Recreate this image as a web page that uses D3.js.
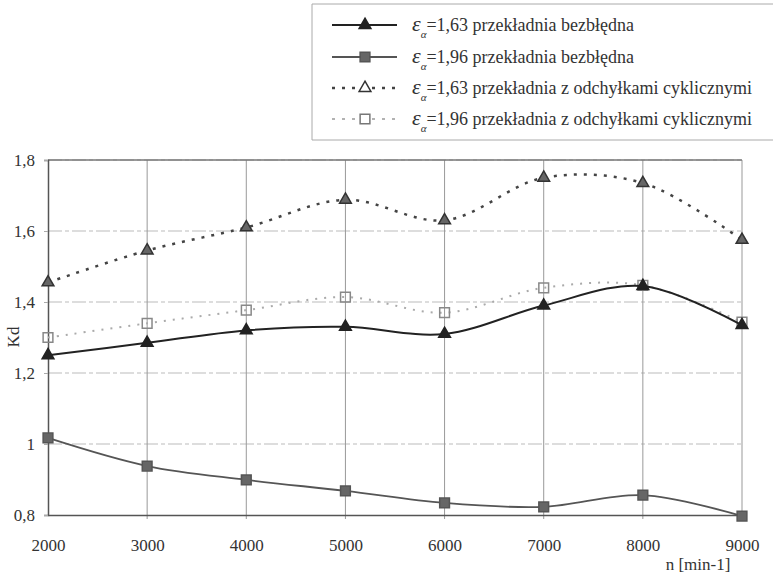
<!DOCTYPE html>
<html lang="pl">
  <head>
    <meta charset="UTF-8" />
    <title>Kd</title>
    <script src="https://cdn.jsdelivr.net/npm/d3@7"></script>
    <style>
      body { margin: 0; background: #fff; }
      svg text { font-family: "Liberation Serif", "DejaVu Serif", serif; fill: #333; }
    </style>
  </head>
  <body>
    <svg width="773" height="575"></svg>
  </body>

  <script>
    // dane
    var obroty = [2000, 3000, 4000, 5000, 6000, 7000, 8000, 9000];
    var kd163 = [1.25, 1.285, 1.32, 1.33, 1.31, 1.39, 1.445, 1.335];
    var kd196 = [1.017, 0.938, 0.899, 0.868, 0.834, 0.823, 0.856, 0.797];
    var kd163odch = [1.455, 1.545, 1.61, 1.688, 1.63, 1.75, 1.735, 1.575];
    var kd196odch = [1.30, 1.34, 1.377, 1.414, 1.37, 1.44, 1.447, 1.343];
    var yTicks = [0.8, 1, 1.2, 1.4, 1.6, 1.8];
    var legendLabels = [
      ['1,63', 'przekładnia bezbłędna'],
      ['1,96', 'przekładnia bezbłędna'],
      ['1,63', 'przekładnia z odchyłkami cyklicznymi'],
      ['1,96', 'przekładnia z odchyłkami cyklicznymi']
    ];

    var svg = d3.select('svg');
    var mLeft = 48, mRight = 742, mTop = 160, mBottom = 515;

    var x = d3.scaleLinear().domain([2000, 9000]).range([mLeft, mRight]);
    var y = d3.scaleLinear().domain([0.8, 1.8]).range([mBottom, mTop]);

    // siatka pozioma
    svg.append('g').selectAll('line').data(yTicks.slice(1)).enter().append('line')
      .attr('x1', mLeft).attr('x2', mRight)
      .attr('y1', function (d) { return y(d); })
      .attr('y2', function (d) { return y(d); })
      .attr('stroke', '#bbb').attr('stroke-width', 1)
      .attr('stroke-dasharray', '14,3,4,3');

    // siatka pionowa
    svg.append('g').selectAll('line').data(obroty.slice(1)).enter().append('line')
      .attr('x1', function (d) { return x(d); })
      .attr('x2', function (d) { return x(d); })
      .attr('y1', mTop).attr('y2', mBottom + 4)
      .attr('stroke', '#999').attr('stroke-width', 1);

    // ramka górna
    svg.append('line').attr('x1', mLeft).attr('x2', mRight).attr('y1', mTop).attr('y2', mTop)
      .attr('stroke', '#777').attr('stroke-width', 1.5);

    // osie
    var axisX = d3.axisBottom(x).tickValues(obroty).tickSize(0).tickPadding(36)
      .tickFormat(d3.format('d'));
    var gx = svg.append('g').attr('transform', 'translate(0,' + mBottom + ')').call(axisX);
    gx.attr('font-family', null);
    gx.select('.domain').attr('stroke', '#555').attr('stroke-width', 1.5);
    gx.selectAll('text').attr('dy', null).style('font-size', '17px').attr('fill', '#444');

    var axisY = d3.axisLeft(y).tickValues(yTicks).tickSize(4).tickPadding(9)
      .tickFormat(function (d) { return String(d).replace('.', ','); });
    var gy = svg.append('g').attr('transform', 'translate(' + mLeft + ',0)').call(axisY);
    gy.attr('font-family', null);
    gy.select('.domain').attr('stroke', '#555').attr('stroke-width', 1.5);
    gy.selectAll('.tick line').attr('stroke', '#aaa');
    gy.selectAll('text').style('font-size', '17px').attr('fill', '#444');

    // etykiety osi
    svg.append('text').attr('transform', 'translate(19,337) rotate(-90)')
      .attr('text-anchor', 'middle').style('font-size', '17px').text('Kd');
    svg.append('text').attr('x', 698).attr('y', 570)
      .attr('text-anchor', 'middle').style('font-size', '17px').text('n [min-1]');

    var line = d3.line()
      .x(function (d, i) { return x(obroty[i]); })
      .y(function (d) { return y(d); })
      .curve(d3.curveCatmullRom.alpha(0.5));

    var serie = [
      { v: kd196odch, color: '#aaa', width: 2, dash: '2,7', mark: 'square', fill: 'none', mStroke: '#888' },
      { v: kd163odch, color: '#444', width: 2.5, dash: '3,7', mark: 'triangle', fill: '#666', mStroke: '#333' },
      { v: kd196, color: '#555', width: 1.8, dash: null, mark: 'square', fill: '#666', mStroke: '#555' },
      { v: kd163, color: '#222', width: 2, dash: null, mark: 'triangle', fill: '#222', mStroke: '#222' }
    ];

    var symTri = d3.symbol().type(d3.symbolTriangle).size(60);
    var symSq = d3.symbol().type(d3.symbolSquare).size(95);

    serie.forEach(function (s) {
      svg.append('path').datum(s.v)
        .attr('d', line)
        .attr('fill', 'none')
        .attr('stroke', s.color)
        .attr('stroke-width', s.width)
        .attr('stroke-dasharray', s.dash);
      svg.append('g').selectAll('path').data(s.v).enter().append('path')
        .attr('d', s.mark === 'triangle' ? symTri : symSq)
        .attr('transform', function (d, i) { return 'translate(' + x(obroty[i]) + ',' + y(d) + ')'; })
        .attr('fill', s.fill === 'none' ? '#fff' : s.fill)
        .attr('fill-opacity', s.fill === 'none' ? 0 : 1)
        .attr('stroke', s.mStroke)
        .attr('stroke-width', 1.5);
    });

    // legenda
    var leg = svg.append('g');
    leg.append('path')
      .attr('d', 'M773,4 H312 V140 H773')
      .attr('fill', 'none').attr('stroke', '#aaa').attr('stroke-width', 1);

    var legStyle = [
      { color: '#222', width: 2, dash: null, mark: 'triangle', fill: '#222', mStroke: '#222' },
      { color: '#555', width: 1.8, dash: null, mark: 'square', fill: '#666', mStroke: '#555' },
      { color: '#444', width: 2.5, dash: '3,7', mark: 'triangle', fill: '#fff', mStroke: '#333' },
      { color: '#999', width: 1.5, dash: '3,7', mark: 'square', fill: '#fff', mStroke: '#777' }
    ];
    var rowY = [25, 57, 88, 119];

    legendLabels.forEach(function (lab, i) {
      var st = legStyle[i];
      var ry = rowY[i];
      leg.append('line').attr('x1', 332).attr('x2', 397).attr('y1', ry).attr('y2', ry)
        .attr('stroke', st.color).attr('stroke-width', st.width)
        .attr('stroke-dasharray', st.dash);
      leg.append('path')
        .attr('d', st.mark === 'triangle' ? symTri : symSq)
        .attr('transform', 'translate(365,' + ry + ')')
        .attr('fill', st.fill).attr('stroke', st.mStroke).attr('stroke-width', 1.5);
      var t = leg.append('text').attr('x', 412).attr('y', ry + 6).style('font-size', '18px');
      t.append('tspan').style('font-style', 'italic').style('font-size', '22px').text('ε');
      t.append('tspan').attr('dy', 7).style('font-style', 'italic').style('font-size', '11px').text('α');
      t.append('tspan').attr('dy', -7).text('=' + lab[0] + ' ' + lab[1]);
    });
  </script>
</html>
